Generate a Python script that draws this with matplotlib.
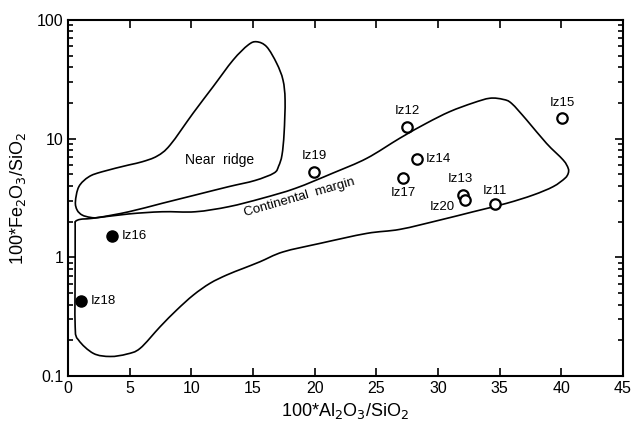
import numpy as np
import matplotlib
matplotlib.use("Agg")
import matplotlib.pyplot as plt
from matplotlib.path import Path
from matplotlib.patches import PathPatch
from matplotlib.ticker import FixedLocator, FixedFormatter, LogLocator, NullFormatter

plt.rcParams['font.family'] = ['Liberation Sans', 'DejaVu Sans']

# samples (open = continental, filled = near axis)
open_names = ['Iz12', 'Iz15', 'Iz19', 'Iz14', 'Iz17', 'Iz13', 'Iz20', 'Iz11']
open_x = [27.5, 40.1, 19.95, 28.3, 27.2, 32.0, 32.2, 34.6]
open_y = [12.6, 15.0, 5.2, 6.7, 4.66, 3.35, 3.04, 2.83]
filled_names = ['Iz16', 'Iz18']
filled_x = [3.57, 1.03]
filled_y = [1.52, 0.43]

# field outlines (closed, last point joins the first)
ridge_x = [0.59, 0.87, 1.68, 2.76, 4.92, 6.0, 7.22, 8.27, 10.14, 11.76, 13.38, 14.6,
           15.3, 16.11, 16.92, 17.43, 17.6, 17.52, 17.35, 17.08, 16.7, 15.16,
           13.03, 10.32, 7.62, 4.92, 2.49, 1.81, 1.14, 0.73]
ridge_y = [2.94, 3.94, 4.77, 5.26, 6.0, 6.38, 7.13, 8.83, 16.4, 27.4, 45.9, 61.5,
           65.5, 59.4, 43.1, 31.2, 21.1, 11.1, 7.28, 5.88, 5.13, 4.44,
           3.94, 3.35, 2.85, 2.42, 2.17, 2.17, 2.27, 2.50]

margin_x = [0.57, 0.59, 1.0, 1.95, 4.92, 7.62, 10.32, 13.03, 15.73, 18.43, 21.49, 24.22,
            26.92, 29.08, 30.97, 32.86, 34.22, 35.3, 35.98, 37.19, 38.81, 40.16, 40.57,
            40.57, 40.3, 39.35, 37.73, 35.57, 32.86, 30.16, 26.92, 24.22, 20.43, 17.43,
            15.57, 14.21, 12.87, 11.51, 10.16, 8.81, 7.46, 5.84, 4.76, 3.41, 2.05, 0.84,
            0.57, 0.57]
margin_y = [1.81, 2.0, 2.09, 2.13, 2.32, 2.42, 2.42, 2.67, 3.14, 3.81, 5.13, 6.82,
            10.1, 13.5, 16.9, 20.0, 21.9, 21.4, 19.8, 14.4, 9.12, 6.61, 5.62,
            5.10, 4.63, 3.94, 3.35, 2.85, 2.42, 2.06, 1.72, 1.59, 1.31, 1.11,
            0.918, 0.807, 0.710, 0.604, 0.481, 0.360, 0.260, 0.171, 0.153, 0.146, 0.155, 0.201,
            0.260, 0.9]

x_ticks = [0, 5, 10, 15, 20, 25, 30, 35, 40, 45]
y_ticks = [0.1, 1, 10, 100]
y_tick_labels = ['0.1', '1', '10', '100']

# label offsets in pixels (dx, dy, ha)
open_offsets = [(0, 16, 'center'), (0, 15, 'center'), (0, 16, 'center'), (9, 0, 'left'),
                (0, -15, 'center'), (-2, 16, 'center'), (-10, -7, 'right'), (0, 13, 'center')]
filled_offsets = [(10, 0, 'left'), (10, 0, 'left')]


def smooth_outline(xs, ys, k=9.63):
    # closed catmull-rom -> bezier, worked out in (x, k*log10 y) space
    p = np.column_stack([np.asarray(xs, float), k * np.log10(ys)])
    n = len(p)
    verts = [p[0]]
    codes = [Path.MOVETO]
    for i in range(n):
        p0, p1, p2, p3 = p[i - 1], p[i], p[(i + 1) % n], p[(i + 2) % n]
        verts += [p1 + (p2 - p0) / 6, p2 - (p3 - p1) / 6, p2]
        codes += [Path.CURVE4] * 3
    verts = np.array(verts)
    verts[:, 1] = 10 ** (verts[:, 1] / k)
    return Path(verts, codes)


fig = plt.figure(figsize=(6.31, 4.30), dpi=100)
ax = fig.add_axes([0.108, 0.1256, 0.879, 0.828])

for xs, ys in [(ridge_x, ridge_y), (margin_x, margin_y)]:
    ax.add_patch(PathPatch(smooth_outline(xs, ys), fc='none', ec='black', lw=1.2))

ax.plot(open_x, open_y, 'o', ms=7.5, mfc='white', mec='black', mew=1.6, ls='none')
ax.plot(filled_x, filled_y, 'o', ms=8, mfc='black', mec='black', ls='none')

px = 72 / 100
for name, x, y, (dx, dy, ha) in zip(open_names + filled_names, open_x + filled_x,
                                    open_y + filled_y, open_offsets + filled_offsets):
    ax.annotate(name, (x, y), xytext=(dx * px, dy * px), textcoords='offset points',
                ha=ha, va='center', fontsize=9.5)

ax.text(12.3, 6.6, 'Near  ridge', ha='center', va='center', fontsize=10)
ax.text(18.8, 3.22, 'Continental  margin', ha='center', va='center', fontsize=9.5, rotation=16)

ax.set_yscale('log')
ax.set_xlim(0, 45)
ax.set_ylim(0.1, 100)
ax.xaxis.set_major_locator(FixedLocator(x_ticks))
ax.yaxis.set_major_locator(FixedLocator(y_ticks))
ax.yaxis.set_major_formatter(FixedFormatter(y_tick_labels))
ax.yaxis.set_minor_locator(LogLocator(base=10, subs=range(2, 10)))
ax.yaxis.set_minor_formatter(NullFormatter())
ax.tick_params(which='both', direction='in', top=True, right=True, labelsize=11.5, width=1.2)
ax.tick_params(which='major', length=6)
ax.tick_params(which='minor', length=3.5)
for s in ax.spines.values():
    s.set_linewidth(1.5)

ax.set_xlabel('100*Al$_2$O$_3$/SiO$_2$', fontsize=13, labelpad=4)
ax.set_ylabel('100*Fe$_2$O$_3$/SiO$_2$', fontsize=13, labelpad=6)

fig.savefig('out.png', dpi=100)
